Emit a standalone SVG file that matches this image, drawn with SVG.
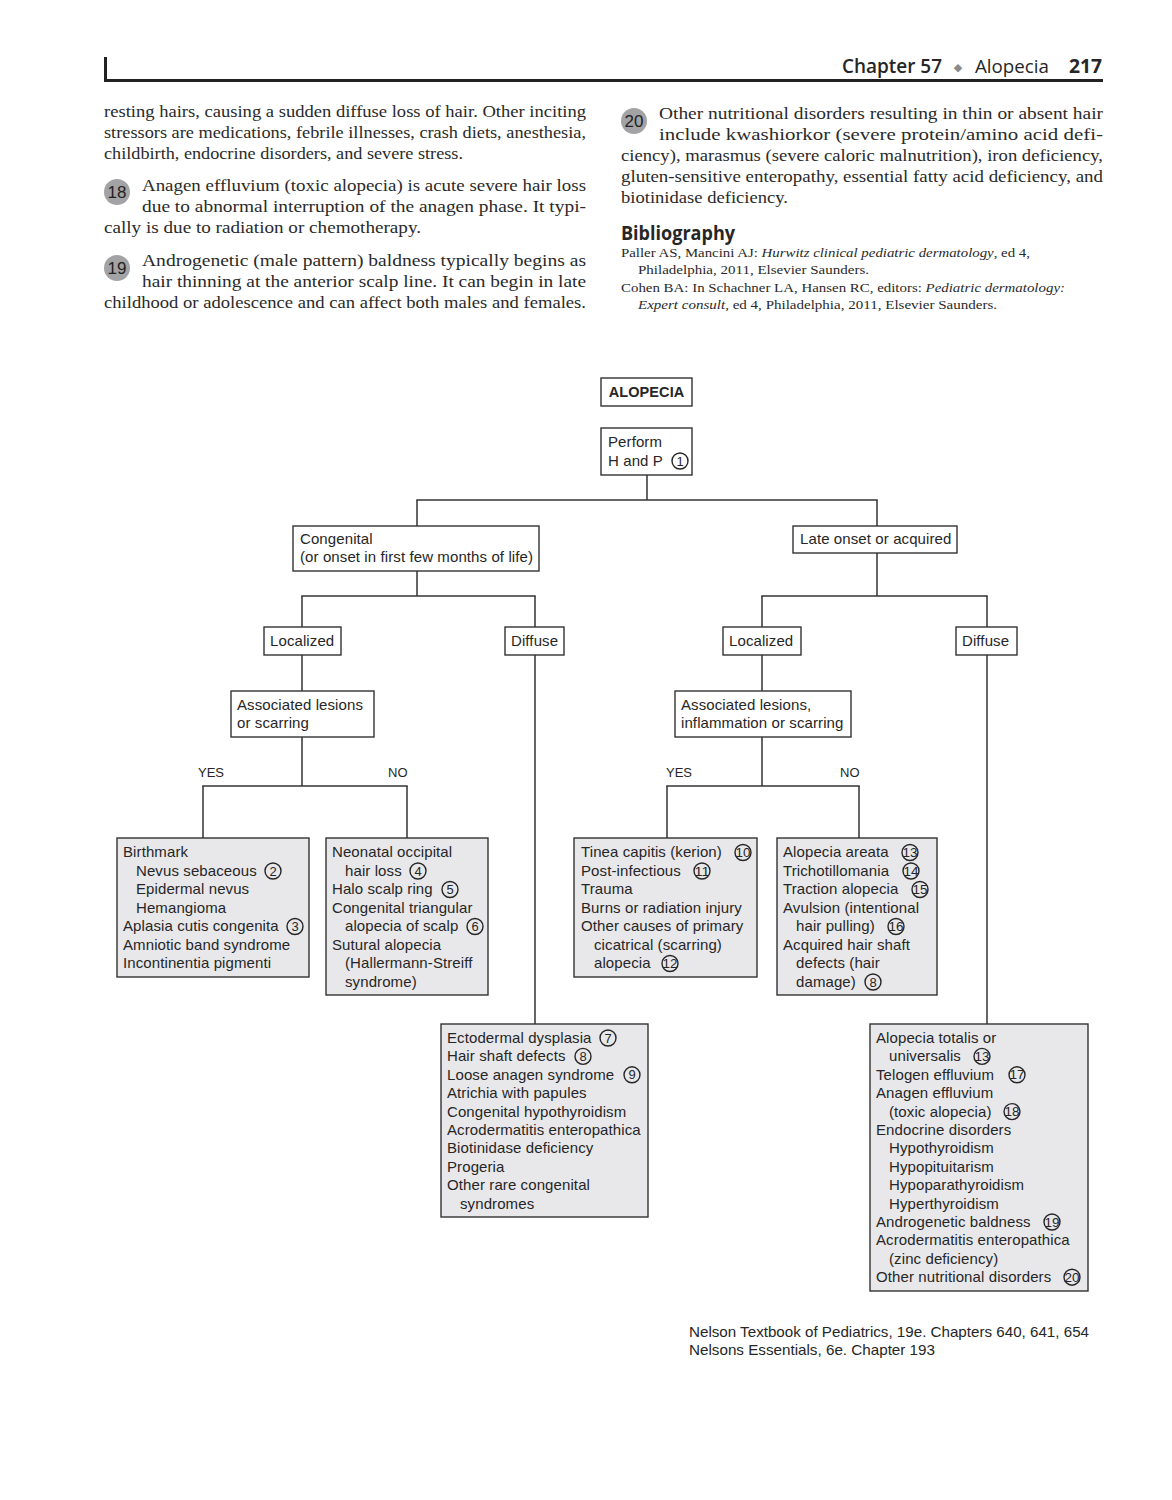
<svg xmlns="http://www.w3.org/2000/svg" width="1172" height="1500" viewBox="0 0 1172 1500">
<style>
.bg{fill:#fff}
.box{fill:#fff;stroke:#333;stroke-width:1.4}
.leaf{fill:#e8e8eb;stroke:#333;stroke-width:1.4}
.t{font-family:"Liberation Sans",Arial,sans-serif;font-size:15px;letter-spacing:0.1px;fill:#262626}
.yn{font-family:"Liberation Sans",Arial,sans-serif;font-size:13px;fill:#262626}
.b{font-weight:bold}
.cn circle{fill:none;stroke:#262626;stroke-width:1.4}
.cn text{font-family:"Liberation Sans",Arial,sans-serif;font-size:13px;fill:#262626;text-anchor:middle}
.conn line{stroke:#333;stroke-width:1.5}
.body{font-family:"Liberation Serif","Times New Roman",serif;font-size:17.5px;fill:#2a2a2a}
.bib{font-family:"Liberation Serif","Times New Roman",serif;font-size:13.5px;fill:#2a2a2a}
.pn circle{fill:#a3a3a5}
.pn text{font-family:"Liberation Sans",Arial,sans-serif;font-size:17px;fill:#222;text-anchor:middle}
.hd{font-family:"Open Sans","Liberation Sans",sans-serif;font-size:19px;fill:#262626}
.foot{font-family:"Liberation Sans",Arial,sans-serif;font-size:14.5px;fill:#262626}
</style>
<rect class="bg" x="0" y="0" width="1172" height="1500"/>

<!-- header -->
<g id="header">
<rect x="104" y="57" width="3" height="25" fill="#222"/>
<rect x="104" y="79" width="999" height="3" fill="#222"/>
<text class="hd" x="842" y="73" textLength="100" lengthAdjust="spacingAndGlyphs" style="font-weight:600">Chapter 57</text>
<text x="958" y="71" style="font-family:'DejaVu Sans',sans-serif;font-size:11px;fill:#8a8a8a" text-anchor="middle">◆</text>
<text class="hd" x="975" y="73" textLength="74" lengthAdjust="spacingAndGlyphs">Alopecia</text>
<text class="hd" x="1069" y="73" textLength="33" lengthAdjust="spacingAndGlyphs" style="font-weight:bold">217</text>
</g>

<!-- left column text -->
<g id="left-text">
<text class="body" x="104" y="117" textLength="482" lengthAdjust="spacingAndGlyphs">resting hairs, causing a sudden diffuse loss of hair. Other inciting</text>
<text class="body" x="104" y="138" textLength="482" lengthAdjust="spacingAndGlyphs">stressors are medications, febrile illnesses, crash diets, anesthesia,</text>
<text class="body" x="104" y="159" textLength="359" lengthAdjust="spacingAndGlyphs">childbirth, endocrine disorders, and severe stress.</text>
<g class="pn"><circle cx="117" cy="192" r="13"/><text x="117" y="198">18</text></g>
<text class="body" x="142" y="191" textLength="444" lengthAdjust="spacingAndGlyphs">Anagen effluvium (toxic alopecia) is acute severe hair loss</text>
<text class="body" x="142" y="212" textLength="444" lengthAdjust="spacingAndGlyphs">due to abnormal interruption of the anagen phase. It typi-</text>
<text class="body" x="104" y="233" textLength="317" lengthAdjust="spacingAndGlyphs">cally is due to radiation or chemotherapy.</text>
<g class="pn"><circle cx="117" cy="268" r="13"/><text x="117" y="274">19</text></g>
<text class="body" x="142" y="266" textLength="444" lengthAdjust="spacingAndGlyphs">Androgenetic (male pattern) baldness typically begins as</text>
<text class="body" x="142" y="287" textLength="444" lengthAdjust="spacingAndGlyphs">hair thinning at the anterior scalp line. It can begin in late</text>
<text class="body" x="104" y="308" textLength="482" lengthAdjust="spacingAndGlyphs">childhood or adolescence and can affect both males and females.</text>
</g>

<!-- right column text -->
<g id="right-text">
<g class="pn"><circle cx="634" cy="121" r="13"/><text x="634" y="127">20</text></g>
<text class="body" x="659" y="119" textLength="444" lengthAdjust="spacingAndGlyphs">Other nutritional disorders resulting in thin or absent hair</text>
<text class="body" x="659" y="140" textLength="444" lengthAdjust="spacingAndGlyphs">include kwashiorkor (severe protein/amino acid defi-</text>
<text class="body" x="621" y="161" textLength="482" lengthAdjust="spacingAndGlyphs">ciency), marasmus (severe caloric malnutrition), iron deficiency,</text>
<text class="body" x="621" y="182" textLength="482" lengthAdjust="spacingAndGlyphs">gluten-sensitive enteropathy, essential fatty acid deficiency, and</text>
<text class="body" x="621" y="203" textLength="167" lengthAdjust="spacingAndGlyphs">biotinidase deficiency.</text>
<text class="hd" x="621" y="240" style="font-weight:bold" textLength="114" lengthAdjust="spacingAndGlyphs">Bibliography</text>
<text class="bib" x="621" y="257" textLength="409" lengthAdjust="spacingAndGlyphs">Paller AS, Mancini AJ: <tspan font-style="italic">Hurwitz clinical pediatric dermatology</tspan>, ed 4,</text>
<text class="bib" x="638" y="274" textLength="231" lengthAdjust="spacingAndGlyphs">Philadelphia, 2011, Elsevier Saunders.</text>
<text class="bib" x="621" y="292" textLength="444" lengthAdjust="spacingAndGlyphs">Cohen BA: In Schachner LA, Hansen RC, editors: <tspan font-style="italic">Pediatric dermatology:</tspan></text>
<text class="bib" x="638" y="309" textLength="359" lengthAdjust="spacingAndGlyphs"><tspan font-style="italic">Expert consult</tspan>, ed 4, Philadelphia, 2011, Elsevier Saunders.</text>
</g>

<!-- connectors -->
<g id="connectors" class="conn">
<line x1="647" y1="475" x2="647" y2="500"/>
<line x1="416.3" y1="500" x2="877.7" y2="500"/>
<line x1="417" y1="500" x2="417" y2="526"/>
<line x1="877" y1="500" x2="877" y2="526"/>
<line x1="417" y1="571" x2="417" y2="596"/>
<line x1="301.3" y1="596" x2="535.7" y2="596"/>
<line x1="302" y1="596" x2="302" y2="627"/>
<line x1="535" y1="596" x2="535" y2="627"/>
<line x1="877" y1="553" x2="877" y2="596"/>
<line x1="761.3" y1="596" x2="987.7" y2="596"/>
<line x1="762" y1="596" x2="762" y2="627"/>
<line x1="987" y1="596" x2="987" y2="627"/>
<line x1="302" y1="655" x2="302" y2="691"/>
<line x1="302" y1="737" x2="302" y2="786"/>
<line x1="202.3" y1="786" x2="407.7" y2="786"/>
<line x1="203" y1="786" x2="203" y2="838"/>
<line x1="407" y1="786" x2="407" y2="838"/>
<line x1="762" y1="655" x2="762" y2="691"/>
<line x1="762" y1="737" x2="762" y2="786"/>
<line x1="666.3" y1="786" x2="859.7" y2="786"/>
<line x1="667" y1="786" x2="667" y2="838"/>
<line x1="859" y1="786" x2="859" y2="838"/>
<line x1="535" y1="655" x2="535" y2="1024"/>
<line x1="987" y1="655" x2="987" y2="1024"/>
</g>

<!-- nodes -->
<g id="n-alopecia">
<rect class="box" x="601" y="378" width="91" height="28"/>
<text class="t b" x="646.5" y="397" text-anchor="middle" style="font-size:14.5px">ALOPECIA</text>
</g>
<g id="n-perform">
<rect class="box" x="601" y="428" width="91" height="47"/>
<text class="t" x="608" y="447">Perform</text>
<text class="t" x="608" y="466">H and P</text>
<g class="cn" transform="translate(680,461)"><circle r="8"/><text y="4.5">1</text></g>
</g>
<g id="n-congenital">
<rect class="box" x="293" y="526" width="246" height="45"/>
<text class="t" x="300" y="544">Congenital</text>
<text class="t" x="300" y="562">(or onset in first few months of life)</text>
</g>
<g id="n-late">
<rect class="box" x="793" y="526" width="164" height="27"/>
<text class="t" x="800" y="544">Late onset or acquired</text>
</g>
<g id="n-localized-c">
<rect class="box" x="264" y="627" width="77" height="28"/>
<text class="t" x="270" y="646">Localized</text>
</g>
<g id="n-diffuse-c">
<rect class="box" x="505" y="627" width="59" height="28"/>
<text class="t" x="511" y="646">Diffuse</text>
</g>
<g id="n-localized-a">
<rect class="box" x="723" y="627" width="78" height="28"/>
<text class="t" x="729" y="646">Localized</text>
</g>
<g id="n-diffuse-a">
<rect class="box" x="956" y="627" width="61" height="28"/>
<text class="t" x="962" y="646">Diffuse</text>
</g>
<g id="n-assoc-c">
<rect class="box" x="231" y="691" width="143" height="46"/>
<text class="t" x="237" y="710">Associated lesions</text>
<text class="t" x="237" y="728">or scarring</text>
</g>
<g id="n-assoc-a">
<rect class="box" x="675" y="691" width="176" height="46"/>
<text class="t" x="681" y="710">Associated lesions,</text>
<text class="t" x="681" y="728">inflammation or scarring</text>
</g>
<g id="labels-yn">
<text class="yn" x="198" y="777">YES</text>
<text class="yn" x="388" y="777">NO</text>
<text class="yn" x="666" y="777">YES</text>
<text class="yn" x="840" y="777">NO</text>
</g>

<g id="n-birthmark">
<rect class="leaf" x="117" y="838" width="192" height="139"/>
<text class="t" x="123" y="857">Birthmark</text>
<text class="t" x="136" y="875.5">Nevus sebaceous</text>
<text class="t" x="136" y="894">Epidermal nevus</text>
<text class="t" x="136" y="912.5">Hemangioma</text>
<text class="t" x="123" y="931">Aplasia cutis congenita</text>
<text class="t" x="123" y="949.5">Amniotic band syndrome</text>
<text class="t" x="123" y="968">Incontinentia pigmenti</text>
<g class="cn" transform="translate(273,871)"><circle r="8"/><text y="4.5">2</text></g>
<g class="cn" transform="translate(295,926.5)"><circle r="8"/><text y="4.5">3</text></g>
</g>
<g id="n-neonatal">
<rect class="leaf" x="326" y="838" width="162" height="157"/>
<text class="t" x="332" y="857">Neonatal occipital</text>
<text class="t" x="345" y="875.5">hair loss</text>
<text class="t" x="332" y="894">Halo scalp ring</text>
<text class="t" x="332" y="912.5">Congenital triangular</text>
<text class="t" x="345" y="931">alopecia of scalp</text>
<text class="t" x="332" y="949.5">Sutural alopecia</text>
<text class="t" x="345" y="968">(Hallermann-Streiff</text>
<text class="t" x="345" y="986.5">syndrome)</text>
<g class="cn" transform="translate(418,871)"><circle r="8"/><text y="4.5">4</text></g>
<g class="cn" transform="translate(450,889.5)"><circle r="8"/><text y="4.5">5</text></g>
<g class="cn" transform="translate(475,926.5)"><circle r="8"/><text y="4.5">6</text></g>
</g>
<g id="n-tinea">
<rect class="leaf" x="574" y="838" width="183" height="139"/>
<text class="t" x="581" y="857">Tinea capitis (kerion)</text>
<text class="t" x="581" y="875.5">Post-infectious</text>
<text class="t" x="581" y="894">Trauma</text>
<text class="t" x="581" y="912.5">Burns or radiation injury</text>
<text class="t" x="581" y="931">Other causes of primary</text>
<text class="t" x="594" y="949.5">cicatrical (scarring)</text>
<text class="t" x="594" y="968">alopecia</text>
<g class="cn" transform="translate(743,852.5)"><circle r="8"/><text y="4.5" textLength="15" lengthAdjust="spacingAndGlyphs" x="-7.5" style="text-anchor:start">10</text></g>
<g class="cn" transform="translate(702,871)"><circle r="8"/><text y="4.5" textLength="15" lengthAdjust="spacingAndGlyphs" x="-7.5" style="text-anchor:start">11</text></g>
<g class="cn" transform="translate(670,963.5)"><circle r="8"/><text y="4.5" textLength="15" lengthAdjust="spacingAndGlyphs" x="-7.5" style="text-anchor:start">12</text></g>
</g>
<g id="n-areata">
<rect class="leaf" x="777" y="838" width="160" height="157"/>
<text class="t" x="783" y="857">Alopecia areata</text>
<text class="t" x="783" y="875.5">Trichotillomania</text>
<text class="t" x="783" y="894">Traction alopecia</text>
<text class="t" x="783" y="912.5">Avulsion (intentional</text>
<text class="t" x="796" y="931">hair pulling)</text>
<text class="t" x="783" y="949.5">Acquired hair shaft</text>
<text class="t" x="796" y="968">defects (hair</text>
<text class="t" x="796" y="986.5">damage)</text>
<g class="cn" transform="translate(910,852.5)"><circle r="8"/><text y="4.5" textLength="15" lengthAdjust="spacingAndGlyphs" x="-7.5" style="text-anchor:start">13</text></g>
<g class="cn" transform="translate(911,871)"><circle r="8"/><text y="4.5" textLength="15" lengthAdjust="spacingAndGlyphs" x="-7.5" style="text-anchor:start">14</text></g>
<g class="cn" transform="translate(920,889.5)"><circle r="8"/><text y="4.5" textLength="15" lengthAdjust="spacingAndGlyphs" x="-7.5" style="text-anchor:start">15</text></g>
<g class="cn" transform="translate(896,926.5)"><circle r="8"/><text y="4.5" textLength="15" lengthAdjust="spacingAndGlyphs" x="-7.5" style="text-anchor:start">16</text></g>
<g class="cn" transform="translate(873,982)"><circle r="8"/><text y="4.5">8</text></g>
</g>
<g id="n-ectodermal">
<rect class="leaf" x="441" y="1024" width="207" height="193"/>
<text class="t" x="447" y="1043">Ectodermal dysplasia</text>
<text class="t" x="447" y="1061.4">Hair shaft defects</text>
<text class="t" x="447" y="1079.8">Loose anagen syndrome</text>
<text class="t" x="447" y="1098.2">Atrichia with papules</text>
<text class="t" x="447" y="1116.6">Congenital hypothyroidism</text>
<text class="t" x="447" y="1135">Acrodermatitis enteropathica</text>
<text class="t" x="447" y="1153.4">Biotinidase deficiency</text>
<text class="t" x="447" y="1171.8">Progeria</text>
<text class="t" x="447" y="1190.2">Other rare congenital</text>
<text class="t" x="460" y="1208.6">syndromes</text>
<g class="cn" transform="translate(608,1038)"><circle r="8"/><text y="4.5">7</text></g>
<g class="cn" transform="translate(583,1056.4)"><circle r="8"/><text y="4.5">8</text></g>
<g class="cn" transform="translate(632,1074.8)"><circle r="8"/><text y="4.5">9</text></g>
</g>
<g id="n-totalis">
<rect class="leaf" x="870" y="1024" width="218" height="267"/>
<text class="t" x="876" y="1043">Alopecia totalis or</text>
<text class="t" x="889" y="1061.4">universalis</text>
<text class="t" x="876" y="1079.8">Telogen effluvium</text>
<text class="t" x="876" y="1098.2">Anagen effluvium</text>
<text class="t" x="889" y="1116.6">(toxic alopecia)</text>
<text class="t" x="876" y="1135">Endocrine disorders</text>
<text class="t" x="889" y="1153.4">Hypothyroidism</text>
<text class="t" x="889" y="1171.8">Hypopituitarism</text>
<text class="t" x="889" y="1190.2">Hypoparathyroidism</text>
<text class="t" x="889" y="1208.6">Hyperthyroidism</text>
<text class="t" x="876" y="1227">Androgenetic baldness</text>
<text class="t" x="876" y="1245.4">Acrodermatitis enteropathica</text>
<text class="t" x="889" y="1263.8">(zinc deficiency)</text>
<text class="t" x="876" y="1282.2">Other nutritional disorders</text>
<g class="cn" transform="translate(982,1056.4)"><circle r="8"/><text y="4.5" textLength="15" lengthAdjust="spacingAndGlyphs" x="-7.5" style="text-anchor:start">13</text></g>
<g class="cn" transform="translate(1017,1074.8)"><circle r="8"/><text y="4.5" textLength="15" lengthAdjust="spacingAndGlyphs" x="-7.5" style="text-anchor:start">17</text></g>
<g class="cn" transform="translate(1012,1111.6)"><circle r="8"/><text y="4.5" textLength="15" lengthAdjust="spacingAndGlyphs" x="-7.5" style="text-anchor:start">18</text></g>
<g class="cn" transform="translate(1052,1222)"><circle r="8"/><text y="4.5" textLength="15" lengthAdjust="spacingAndGlyphs" x="-7.5" style="text-anchor:start">19</text></g>
<g class="cn" transform="translate(1072,1277.2)"><circle r="8"/><text y="4.5" textLength="15" lengthAdjust="spacingAndGlyphs" x="-7.5" style="text-anchor:start">20</text></g>
</g>

<g id="footer">
<text class="foot" x="689" y="1337" textLength="400" lengthAdjust="spacingAndGlyphs">Nelson Textbook of Pediatrics, 19e. Chapters 640, 641, 654</text>
<text class="foot" x="689" y="1355" textLength="246" lengthAdjust="spacingAndGlyphs">Nelsons Essentials, 6e. Chapter 193</text>
</g>
</svg>
